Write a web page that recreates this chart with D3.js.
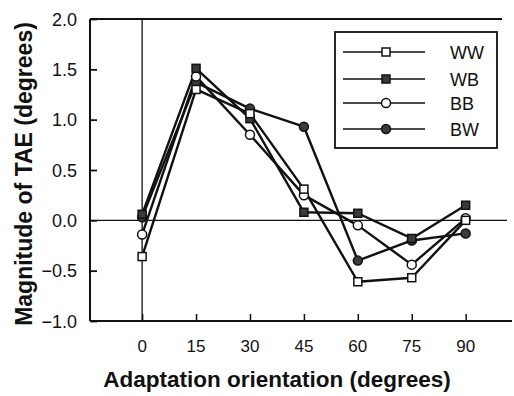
<!DOCTYPE html>
<html>
<head>
<meta charset="utf-8">
<script src="https://cdn.jsdelivr.net/npm/d3@7"></script>
<style>
  body { margin: 0; background: #fff; }
  text { font-family: "Liberation Sans", Arial, sans-serif; fill: #111; }
</style>
</head>
<body>
<svg id="chart"></svg>
<script>
// adaptation orientations (deg)
var orientations = [0, 15, 30, 45, 60, 75, 90];
var wwValues = [-0.36, 1.30, 1.06, 0.31, -0.61, -0.57, 0.00];
var wbValues = [0.06, 1.51, 1.01, 0.08, 0.07, -0.18, 0.15];
var bbValues = [-0.14, 1.43, 0.85, 0.25, -0.05, -0.44, 0.02];
var bwValues = [0.03, 1.37, 1.11, 0.93, -0.40, -0.20, -0.13];
var seriesNames = ["WW", "WB", "BB", "BW"];
var yTicks = [-1.0, -0.5, 0.0, 0.5, 1.0, 1.5, 2.0];

var series = [
  {name: seriesNames[0], values: wwValues, shape: "square", fill: "#fff"},
  {name: seriesNames[1], values: wbValues, shape: "square", fill: "#3a3a3a"},
  {name: seriesNames[2], values: bbValues, shape: "circle", fill: "#fff"},
  {name: seriesNames[3], values: bwValues, shape: "circle", fill: "#3a3a3a"}
];

var svgWidth = 514, svgHeight = 396;
var svg = d3.select("#chart")
  .attr("width", svgWidth)
  .attr("height", svgHeight);

var x = d3.scaleLinear().domain([-14.5, 101.5]).range([90, 507]);
var y = d3.scaleLinear().domain([-1, 2]).range([321, 19]);

var ink = "#111";

// frame: top and left lines
svg.append("line")
  .attr("x1", 90).attr("x2", 502)
  .attr("y1", y(2)).attr("y2", y(2))
  .attr("stroke", ink).attr("stroke-width", 2);
svg.append("line")
  .attr("x1", 90).attr("x2", 90)
  .attr("y1", y(2)).attr("y2", y(-1))
  .attr("stroke", ink).attr("stroke-width", 2);

// zero lines
svg.append("line")
  .attr("x1", 90).attr("x2", 507)
  .attr("y1", y(0)).attr("y2", y(0))
  .attr("stroke", ink).attr("stroke-width", 1.3);
svg.append("line")
  .attr("x1", x(0)).attr("x2", x(0))
  .attr("y1", y(2)).attr("y2", y(-1))
  .attr("stroke", ink).attr("stroke-width", 1.3);

// y axis
var yAxis = svg.append("g")
  .attr("transform", "translate(90,0)")
  .call(d3.axisRight(y).tickValues(yTicks).tickSize(7).tickFormat(""));
yAxis.select(".domain").remove();
yAxis.selectAll("line").attr("stroke", ink).attr("stroke-width", 1.8);

svg.append("g").selectAll("text")
  .data(yTicks)
  .join("text")
  .attr("x", 77)
  .attr("y", function (d) { return y(d) + 6.5; })
  .attr("text-anchor", "end")
  .attr("font-size", 18)
  .text(function (d) { return d3.format(".1f")(d); });

// x axis
var xAxis = svg.append("g")
  .attr("transform", "translate(0," + y(-1) + ")")
  .call(d3.axisTop(x).tickValues(orientations).tickSize(7).tickFormat(""));
xAxis.select(".domain").remove();
xAxis.selectAll("line").attr("stroke", ink).attr("stroke-width", 1.5);
svg.append("line")
  .attr("x1", 90).attr("x2", 512)
  .attr("y1", y(-1)).attr("y2", y(-1))
  .attr("stroke", ink).attr("stroke-width", 2);

svg.append("g").selectAll("text")
  .data(orientations)
  .join("text")
  .attr("x", function (d) { return x(d); })
  .attr("y", 352)
  .attr("text-anchor", "middle")
  .attr("font-size", 17)
  .text(function (d) { return d; });

// axis titles
svg.append("text")
  .attr("x", 277).attr("y", 387)
  .attr("text-anchor", "middle")
  .attr("font-size", 22.5).attr("font-weight", "bold")
  .text("Adaptation orientation (degrees)");
svg.append("text")
  .attr("transform", "translate(32,174) rotate(-90)")
  .attr("text-anchor", "middle")
  .attr("font-size", 23).attr("font-weight", "bold")
  .text("Magnitude of TAE (degrees)");

function drawMarker(g, s, cx, cy) {
  if (s.shape === "square") {
    g.append("rect")
      .attr("x", cx - 4).attr("y", cy - 4)
      .attr("width", 8).attr("height", 8)
      .attr("fill", s.fill).attr("stroke", ink).attr("stroke-width", 1.5);
  } else {
    g.append("circle")
      .attr("cx", cx).attr("cy", cy).attr("r", 4.5)
      .attr("fill", s.fill).attr("stroke", ink).attr("stroke-width", 1.5);
  }
}

var line = d3.line()
  .x(function (d, i) { return x(orientations[i]); })
  .y(function (d) { return y(d); });

series.forEach(function (s) {
  svg.append("path")
    .datum(s.values)
    .attr("fill", "none")
    .attr("stroke", ink)
    .attr("stroke-width", 2.4)
    .attr("stroke-linejoin", "round")
    .attr("d", line);
});
// markers in reverse so WB squares sit on top like the original
series.slice().reverse().forEach(function (s) {
  var g = svg.append("g");
  s.values.forEach(function (v, i) {
    drawMarker(g, s, x(orientations[i]), y(v));
  });
});

// legend
var legend = svg.append("g");
legend.append("rect")
  .attr("x", 335).attr("y", 32)
  .attr("width", 162).attr("height", 116)
  .attr("fill", "#fff").attr("stroke", ink).attr("stroke-width", 1.8);
var rowY = [52, 79, 103, 129];
series.forEach(function (s, i) {
  legend.append("line")
    .attr("x1", 343).attr("x2", 425)
    .attr("y1", rowY[i]).attr("y2", rowY[i])
    .attr("stroke", ink).attr("stroke-width", 1.5);
  drawMarker(legend, s, 386, rowY[i]);
  legend.append("text")
    .attr("x", 450).attr("y", rowY[i] + 6.5)
    .attr("font-size", 18)
    .text(s.name);
});
</script>
</body>
</html>
